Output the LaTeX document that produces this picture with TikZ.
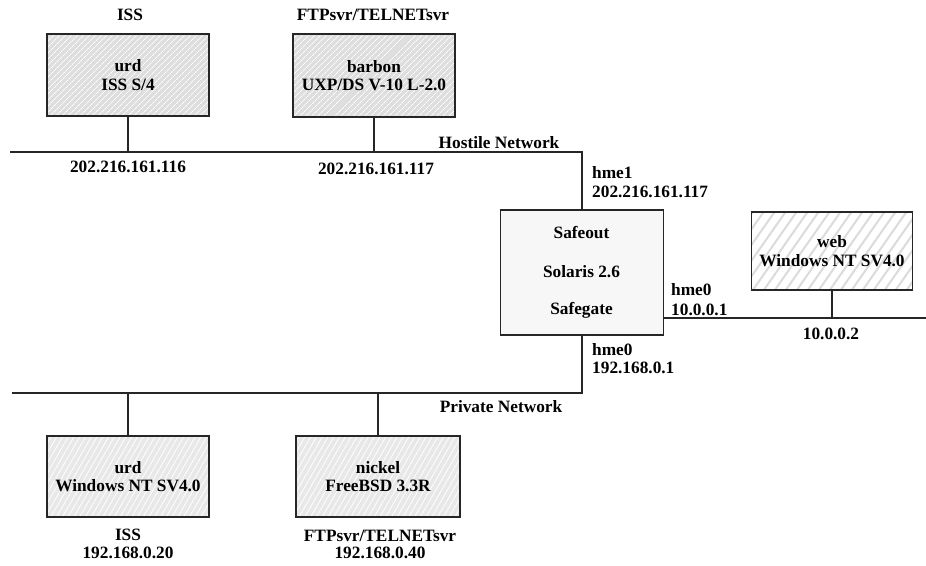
\documentclass[tikz,border=0pt]{standalone}
\usepackage{fontspec}
\setmainfont{Liberation Serif}
\usetikzlibrary{patterns.meta}
\begin{document}
\begin{tikzpicture}[x=1pt,y=-1pt,
  every node/.style={font=\fontsize{17.3}{18.5}\selectfont\bfseries, inner sep=0pt},
  host/.style={draw=black!85, line width=1.9pt, minimum width=#1, align=center},
  topbox/.style={host=162pt, minimum height=82pt,
     preaction={fill=black!13},
     preaction={pattern={Lines[angle=45,distance=4pt,line width=0.8pt]}, pattern color=white}},
  botbox/.style={host=162pt, minimum height=81pt,
     preaction={fill=black!9},
     preaction={pattern={Lines[angle=60,distance=5pt,line width=0.8pt]}, pattern color=white}},
  webbox/.style={host=161pt, minimum height=78pt,
     preaction={fill=white},
     preaction={pattern={Lines[angle=55,distance=9pt,line width=2pt]}, pattern color=black!14}},
  gwbox/.style={host=163pt, minimum height=125pt, fill=black!3},
  net/.style={line width=2pt, draw=black!85},
  lbl/.style={anchor=west},
]
\useasboundingbox (0,0) rectangle (926,565);

% hosts
\node[topbox] (urdA) at (128,75) {urd\\ISS S/4};
\node[topbox, minimum height=83pt] (barbon) at (374,75.5) {barbon\\UXP/DS V-10 L-2.0};
\node[gwbox] (safeout) at (582,272.5) {};
\node (t1) at (581.5,233) {Safeout};
\node (t2) at (581.5,272) {Solaris 2.6};
\node (t3) at (581.5,310) {Safegate};
\node[webbox] (web) at (832,251) {web\\Windows NT SV4.0};
\node[botbox] (urdB) at (128,476.5) {urd\\Windows NT SV4.0};
\node[botbox, minimum width=164pt] (nickel) at (378,476.5) {nickel\\FreeBSD 3.3R};

% network endpoints
\coordinate (hL) at (10,152);
\coordinate (pL) at (12,393);
\coordinate (wR) at (926,318);

% networks
\draw[net] (hL) -| (safeout.north);
\draw[net] (pL) -| (safeout.south);
\draw[net] (safeout.east |- wR) -- (wR);
\draw[net] (urdA.south) -- (urdA.south |- hL);
\draw[net] (barbon.south) -- (barbon.south |- hL);
\draw[net] (web.south) -- (web.south |- wR);
\draw[net] (urdB.north) -- (urdB.north |- pL);
\draw[net] (nickel.north) -- (nickel.north |- pL);

% labels
\node (lISS) at (130,15) {ISS};
\node (lFTP) at (373,15) {FTPsvr/TELNETsvr};
\node (ip116) at (128,167) {202.216.161.116};
\node (ip117) at (376,169) {202.216.161.117};
\node (hostile) at (499,143) {Hostile Network};
\node[lbl] (hme1) at (592,173) {hme1};
\node[lbl] (ipg1) at (592,192) {202.216.161.117};
\node[lbl] (hme0a) at (671,290) {hme0};
\node[lbl] (ipg2) at (671,310) {10.0.0.1};
\node (ipweb) at (831,334) {10.0.0.2};
\node[lbl] (hme0b) at (592,350) {hme0};
\node[lbl] (ipg3) at (592,368) {192.168.0.1};
\node (private) at (501,407) {Private Network};
\node (lISS2) at (128,535) {ISS};
\node (ip20) at (128,553) {192.168.0.20};
\node (lFTP2) at (380,536) {FTPsvr/TELNETsvr};
\node (ip40) at (380,553) {192.168.0.40};
\end{tikzpicture}
\end{document}
